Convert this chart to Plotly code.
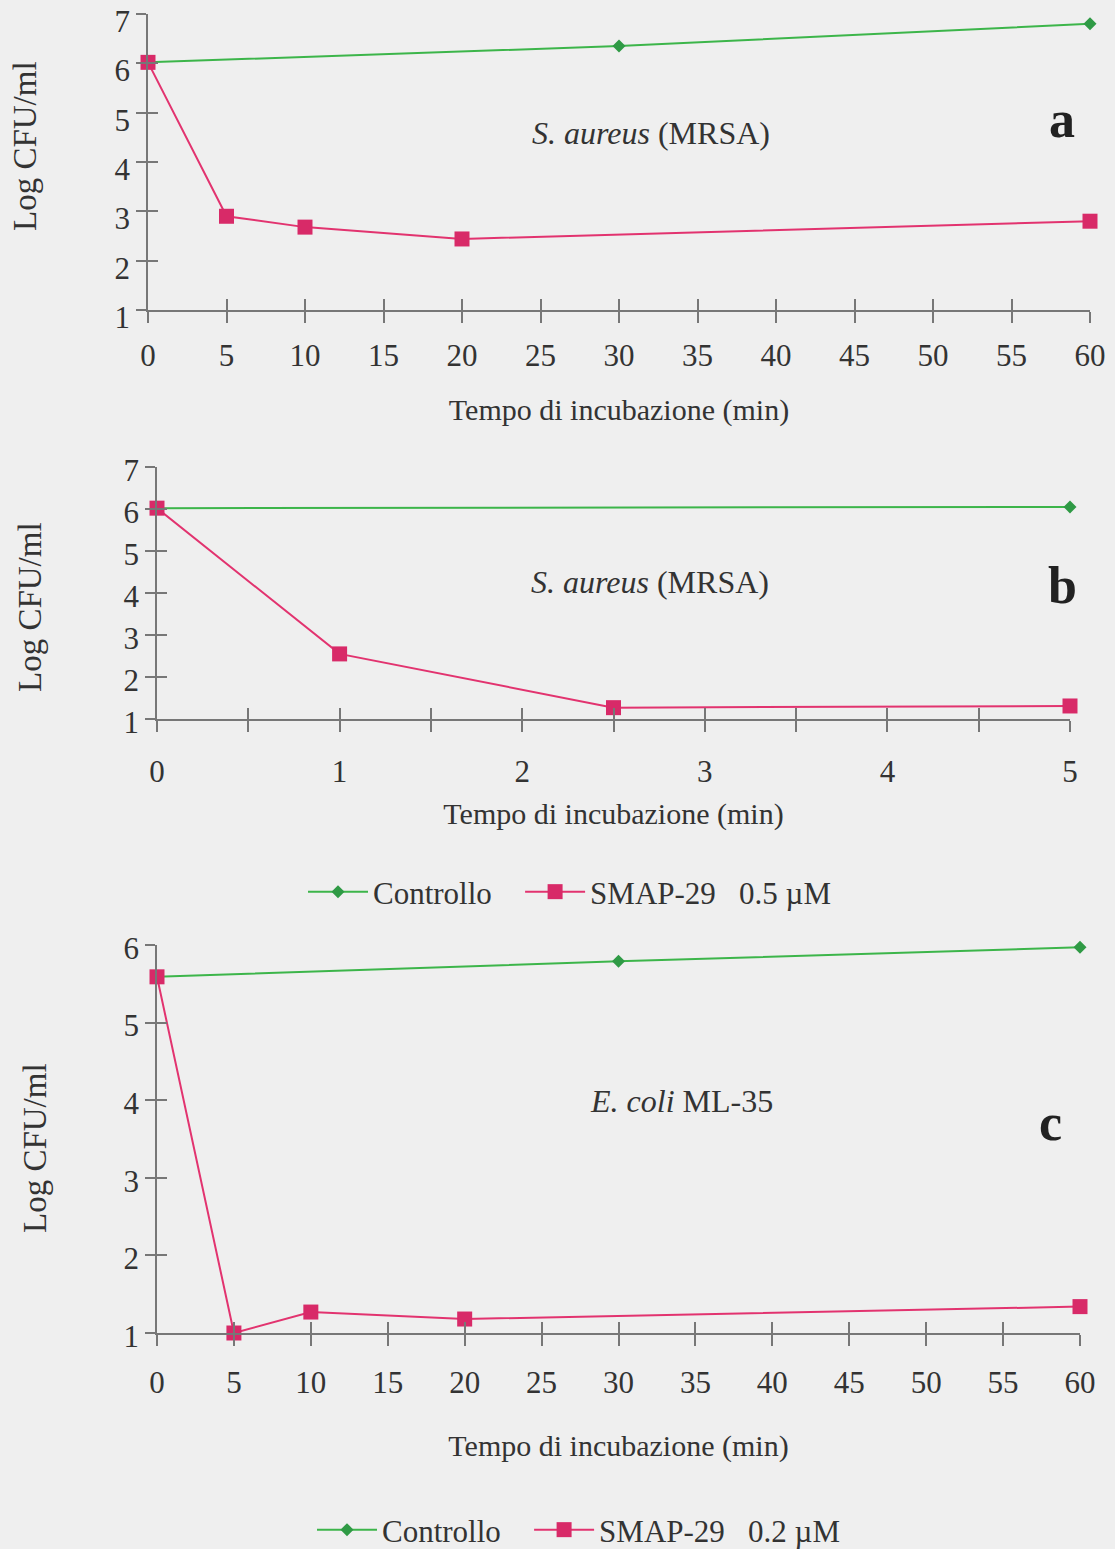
import plotly.graph_objects as go

# ---------------- data ----------------
# Panel a: S. aureus (MRSA), SMAP-29 0.5 uM, 0-60 min
a_ctrl_x = [0, 30, 60]
a_ctrl_y = [6.02, 6.35, 6.80]
a_smap_x = [0, 5, 10, 20, 60]
a_smap_y = [6.02, 2.90, 2.68, 2.44, 2.80]

# Panel b: S. aureus (MRSA), SMAP-29 0.5 uM, 0-5 min
b_ctrl_x = [0, 5]
b_ctrl_y = [6.02, 6.05]
b_smap_x = [0, 1, 2.5, 5]
b_smap_y = [6.02, 2.55, 1.27, 1.31]

# Panel c: E. coli ML-35, SMAP-29 0.2 uM, 0-60 min
c_ctrl_x = [0, 30, 60]
c_ctrl_y = [5.59, 5.79, 5.97]
c_smap_x = [0, 5, 10, 20, 60]
c_smap_y = [5.59, 1.00, 1.27, 1.18, 1.34]

ticks_60 = list(range(0, 61, 5))
ticks_5 = [0, 0.5, 1, 1.5, 2, 2.5, 3, 3.5, 4, 4.5, 5]
ticks_5_text = ["0", "", "1", "", "2", "", "3", "", "4", "", "5"]

ctrl_name = "Controllo\u00a0\u00a0\u00a0"
smap_name_ab = "SMAP-29\u00a0\u00a0\u00a00.5 \u00b5M"
smap_name_c = "SMAP-29\u00a0\u00a0\u00a00.2 \u00b5M"

# ---------------- style ----------------
W, H = 1115, 1549
GREEN = "#3cb54a"
GREEN_M = "#2f9a45"
PINK = "#e2336f"
PINK_M = "#d82a68"
AXC = "#777777"
TXT = "#333333"
FONT = "Liberation Serif"

def px_x(p):
    return p / W

def px_y(p):
    return 1 - p / H

fig = go.Figure()

def add_pair(xa, ya, cx, cy, sx, sy, sname, legend, show):
    fig.add_trace(go.Scatter(
        x=cx, y=cy, name=ctrl_name, mode="lines+markers", xaxis=xa, yaxis=ya,
        line=dict(color=GREEN, width=2),
        marker=dict(symbol="diamond", size=10, color=GREEN_M),
        cliponaxis=False, showlegend=show, legend=legend))
    fig.add_trace(go.Scatter(
        x=sx, y=sy, name=sname, mode="lines+markers", xaxis=xa, yaxis=ya,
        line=dict(color=PINK, width=2),
        marker=dict(symbol="square", size=15, color=PINK_M),
        cliponaxis=False, showlegend=show, legend=legend))

add_pair("x", "y", a_ctrl_x, a_ctrl_y, a_smap_x, a_smap_y, smap_name_ab, "legend", False)
add_pair("x2", "y2", b_ctrl_x, b_ctrl_y, b_smap_x, b_smap_y, smap_name_ab, "legend", True)
add_pair("x3", "y3", c_ctrl_x, c_ctrl_y, c_smap_x, c_smap_y, smap_name_c, "legend2", True)

tickfont = dict(family=FONT, size=31, color=TXT)
titlefont = dict(family=FONT, size=30, color=TXT)

panels = [
    # (suffix, xdom px, ydom px, xrange, xtickvals, xticktext, yrange, ytickvals,
    #  x-title standoff, x-ticklabel standoff, y-ticklabel shift)
    ("", (148, 1090), (14, 310), [0, 60], ticks_60, [str(t) for t in ticks_60], [1, 7], list(range(1, 8)), 27, 6, 7),
    ("2", (157, 1070), (467, 719), [0, 5], ticks_5, ticks_5_text, [1, 7], list(range(1, 8)), 15, 13, 3),
    ("3", (157, 1080), (945, 1333), [0, 60], ticks_60, [str(t) for t in ticks_60], [1, 6], list(range(1, 7)), 36, 10, 3),
]

layout_axes = {}
for i, (s, xd, yd, xr, xtv, xtt, yr, ytv, xso, tso, ysh) in enumerate(panels):
    xdom = [px_x(xd[0]), px_x(xd[1])]
    ydom = [px_y(yd[1]), px_y(yd[0])]
    xname = "xaxis" + s
    yname = "yaxis" + s
    xid = "x" + s
    yid = "y" + s
    layout_axes[xname] = dict(
        domain=xdom, anchor=yid, range=xr, tickmode="array", tickvals=xtv, ticktext=xtt,
        showgrid=False, zeroline=False, showline=True, linecolor=AXC, linewidth=1.5,
        ticks="outside", ticklen=11, tickcolor=AXC, tickwidth=1.5, tickfont=tickfont,
        ticklabelstandoff=tso, automargin=False, ticklabeloverflow="allow",
        title=dict(text="Tempo di incubazione (min)", font=titlefont, standoff=xso))
    layout_axes[yname] = dict(
        domain=ydom, anchor=xid, range=yr, tickmode="array", tickvals=ytv,
        showgrid=False, zeroline=False, showline=True, linecolor=AXC, linewidth=1.5,
        ticks="outside", ticklen=10, tickcolor=AXC, tickwidth=1.5, tickfont=tickfont,
        ticklabelshift=ysh, automargin=False, ticklabeloverflow="allow")
    # overlay axes for inside half of the crossing tick marks
    ox = str(4 + i * 2)
    oy = str(5 + i * 2)
    layout_axes["xaxis" + ox] = dict(
        overlaying=xid, anchor=yid, range=xr, tickmode="array", tickvals=xtv,
        showticklabels=False, showgrid=False, zeroline=False, showline=False,
        ticks="inside", ticklen=11, tickcolor=AXC, tickwidth=1.5, side="bottom",
        automargin=False)
    layout_axes["yaxis" + oy] = dict(
        overlaying=yid, anchor=xid, range=yr, tickmode="array", tickvals=ytv,
        showticklabels=False, showgrid=False, zeroline=False, showline=False,
        ticks="inside", ticklen=10, tickcolor=AXC, tickwidth=1.5, side="left",
        automargin=False)
    fig.add_trace(go.Scatter(x=[xr[0]], y=[yr[0]], xaxis="x" + ox, yaxis="y" + oy,
                             mode="markers", marker=dict(opacity=0), showlegend=False,
                             hoverinfo="skip"))

annfont = dict(family=FONT, size=32, color=TXT)
letterfont = dict(family=FONT, size=52, color="#222222")
ytitlefont = dict(family=FONT, size=33, color=TXT)
annotations = [
    dict(text="<i>S. aureus</i> (MRSA)", x=px_x(651), y=px_y(133), font=annfont),
    dict(text="<b>a</b>", x=px_x(1062), y=px_y(120), font=letterfont),
    dict(text="<i>S. aureus</i> (MRSA)", x=px_x(650), y=px_y(582), font=annfont),
    dict(text="<b>b</b>", x=px_x(1062), y=px_y(585), font=letterfont),
    dict(text="<i>E. coli</i> ML-35", x=px_x(682), y=px_y(1101), font=annfont),
    dict(text="<b>c</b>", x=px_x(1050), y=px_y(1122), font=letterfont),
    dict(text="Log CFU/ml", x=px_x(25), y=px_y(146), font=ytitlefont, textangle=-90),
    dict(text="Log CFU/ml", x=px_x(30), y=px_y(607), font=ytitlefont, textangle=-90),
    dict(text="Log CFU/ml", x=px_x(35), y=px_y(1148), font=ytitlefont, textangle=-90),
]
for a in annotations:
    a.update(xref="paper", yref="paper", showarrow=False, xanchor="center", yanchor="middle")

legfont = dict(family=FONT, size=31, color=TXT)
fig.update_layout(
    width=W, height=H,
    margin=dict(l=0, r=0, t=0, b=0, pad=0, autoexpand=False),
    paper_bgcolor="#efefef",
    plot_bgcolor="rgba(0,0,0,0)",
    font=dict(family=FONT, color=TXT),
    annotations=annotations,
    legend=dict(orientation="h", x=px_x(570), y=px_y(892), xanchor="center", yanchor="middle",
                font=legfont, bgcolor="rgba(0,0,0,0)", itemwidth=60),
    legend2=dict(orientation="h", x=px_x(579), y=px_y(1530), xanchor="center", yanchor="middle",
                 font=legfont, bgcolor="rgba(0,0,0,0)", itemwidth=60),
    **layout_axes,
)

fig.write_html("out.html")
